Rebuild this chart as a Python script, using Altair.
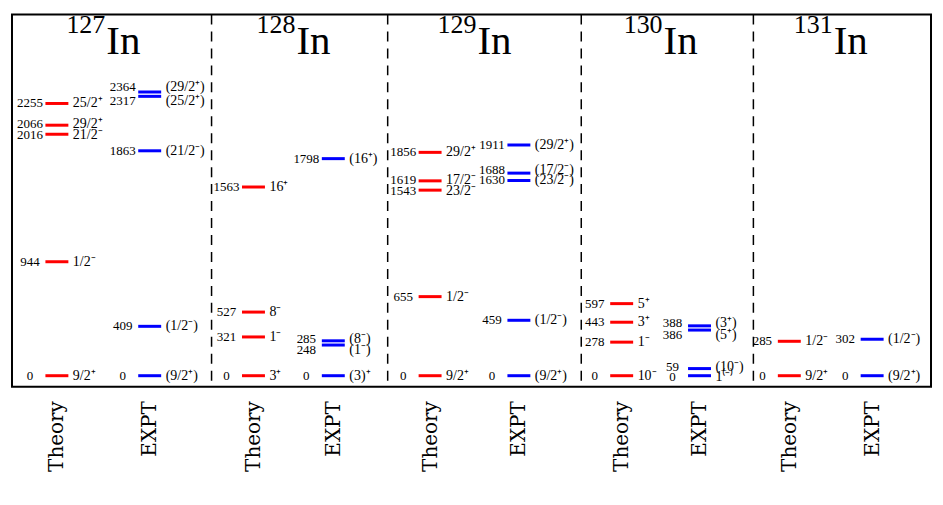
import altair as alt
import pandas as pd

# ---------------- data ----------------
nuclei = ["127", "128", "129", "130", "131"]
sources = ["Theory", "EXPT"]

# level lists: nucleus, source, energy (keV), spin label
lv_nucleus = (["127"] * 5 + ["127"] * 5 +
              ["128"] * 4 + ["128"] * 4 +
              ["129"] * 5 + ["129"] * 5 +
              ["130"] * 4 + ["130"] * 4 +
              ["131"] * 2 + ["131"] * 2)
lv_source = (["Theory"] * 5 + ["EXPT"] * 5 +
             ["Theory"] * 4 + ["EXPT"] * 4 +
             ["Theory"] * 5 + ["EXPT"] * 5 +
             ["Theory"] * 4 + ["EXPT"] * 4 +
             ["Theory"] * 2 + ["EXPT"] * 2)
lv_energy = [0, 944, 2016, 2066, 2255,
             0, 409, 1863, 2317, 2364,
             0, 321, 527, 1563,
             0, 248, 285, 1798,
             0, 655, 1543, 1619, 1856,
             0, 459, 1630, 1688, 1911,
             0, 278, 443, 597,
             0, 59, 386, 388,
             0, 285,
             0, 302]
lv_spin = ["9/2⁺", "1/2⁻", "21/2⁻", "29/2⁺", "25/2⁺",
           "(9/2⁺)", "(1/2⁻)", "(21/2⁻)", "(25/2⁺)", "(29/2⁺)",
           "3⁺", "1⁻", "8⁻", "16⁺",
           "(3)⁺", "(1⁻)", "(8⁻)", "(16⁺)",
           "9/2⁺", "1/2⁻", "23/2⁻", "17/2⁻", "29/2⁺",
           "(9/2⁺)", "(1/2⁻)", "(23/2⁻)", "(17/2⁻)", "(29/2⁺)",
           "10⁻", "1⁻", "3⁺", "5⁺",
           "1⁽⁻⁾", "(10⁻)", "(5⁺)", "(3⁺)",
           "9/2⁺", "1/2⁻",
           "(9/2⁺)", "(1/2⁻)"]
# displayed (separated) heights of lines and labels for close-lying levels, keV scale
lv_line_e = [0, 944, 2000, 2075, 2255,
             0, 409, 1863, 2314, 2350,
             0, 321, 527, 1563,
             0, 254, 289, 1798,
             0, 655, 1537, 1614, 1850,
             0, 459, 1617, 1678, 1911,
             0, 278, 443, 597,
             0, 59, 378, 413,
             0, 285,
             0, 302]
lv_label_e = [0, 944, 1990, 2085, 2255,
              0, 409, 1863, 2278, 2388,
              0, 321, 527, 1563,
              0, 215, 306, 1798,
              0, 655, 1526, 1622, 1856,
              0, 459, 1622, 1705, 1911,
              0, 278, 443, 597,
              -14, 74, 336, 440,
              0, 285,
              0, 302]

# ---------------- layout ----------------
col_x = {("127", "Theory"): 45, ("127", "EXPT"): 138,
         ("128", "Theory"): 242, ("128", "EXPT"): 322,
         ("129", "Theory"): 419, ("129", "EXPT"): 508,
         ("130", "Theory"): 611, ("130", "EXPT"): 689,
         ("131", "Theory"): 779, ("131", "EXPT"): 862}
separators = [200, 376.5, 570.5, 743]
half_len = 11.5
W, H = 921, 373
x_dom = [0, 921]
y_dom = [-91, 2992]

levels = pd.DataFrame({
    "nucleus": lv_nucleus, "source": lv_source, "energy": lv_energy,
    "spin": lv_spin, "line_e": lv_line_e, "label_e": lv_label_e,
})
levels["xc"] = [col_x[(n, s)] for n, s in zip(lv_nucleus, lv_source)]
levels["x0"] = levels["xc"] - half_len
levels["x1"] = levels["xc"] + half_len
levels["elabel"] = levels["energy"].astype(str)

titles = pd.DataFrame({
    "mass": nuclei,
    "xm": [(col_x[(n, "Theory")] + col_x[(n, "EXPT")]) / 2 + 3 for n in nuclei],
    "el": ["In"] * len(nuclei),
})
titles["y_in"] = 2661
titles["y_mass"] = 2835

seps = pd.DataFrame({"sep": separators})

xs = alt.Scale(domain=x_dom, nice=False, zero=False)
ys = alt.Scale(domain=y_dom, nice=False, zero=False)

theory_vals = [col_x[(n, "Theory")] for n in nuclei]
all_vals = sorted(col_x.values())
label_expr = ("indexof([" + ",".join(str(v) for v in theory_vals) +
              "], datum.value) >= 0 ? 'Theory' : 'EXPT'")

LABELFONT = "DejaVu Serif"
SERIF = "Liberation Serif"

xaxis = alt.Axis(values=all_vals, labelExpr=label_expr, labelAngle=270,
                 ticks=False, domain=False, grid=False, title=None,
                 labelFont=LABELFONT, labelFontSize=20,
                 labelColor="black", labelPadding=14, labelOverlap=False,
                 labelFlush=False)

lines = alt.Chart(levels).mark_rule(strokeWidth=3).encode(
    x=alt.X("x0:Q", scale=xs, axis=xaxis),
    x2="x1:Q",
    y=alt.Y("line_e:Q", scale=ys, axis=None),
    color=alt.Color("source:N", scale=alt.Scale(domain=sources,
                    range=["#ff0000", "#0000ff"]), legend=None),
)

etext = alt.Chart(levels).mark_text(
    align="center", baseline="middle", dx=-27,
    font=SERIF, fontSize=13, color="black"
).encode(x=alt.X("xc:Q", scale=xs), y=alt.Y("label_e:Q", scale=ys), text="elabel:N")

stext = alt.Chart(levels).mark_text(
    align="left", baseline="middle", dx=16,
    font=SERIF, fontSize=14, color="black"
).encode(x=alt.X("xc:Q", scale=xs), y=alt.Y("label_e:Q", scale=ys), text="spin:N")

seprules = alt.Chart(seps).mark_rule(
    strokeDash=[10, 7], strokeWidth=1.5, color="black"
).encode(x=alt.X("sep:Q", scale=xs))

t_in = alt.Chart(titles).mark_text(
    align="left", baseline="alphabetic", font=SERIF,
    fontSize=41, color="black"
).encode(x=alt.X("xm:Q", scale=xs), y=alt.Y("y_in:Q", scale=ys), text="el:N")

t_mass = alt.Chart(titles).mark_text(
    align="right", baseline="alphabetic", font=SERIF,
    fontSize=26, color="black", dx=-1
).encode(x=alt.X("xm:Q", scale=xs), y=alt.Y("y_mass:Q", scale=ys), text="mass:N")

chart = alt.layer(lines, etext, stext, seprules, t_in, t_mass).properties(
    width=W, height=H,
    background="white",
    padding={"left": 4, "top": 3, "right": 4, "bottom": 4},
).configure_view(
    stroke="black", strokeWidth=2
)

chart.save("out.html", embed_options={"renderer": "svg", "actions": False})
